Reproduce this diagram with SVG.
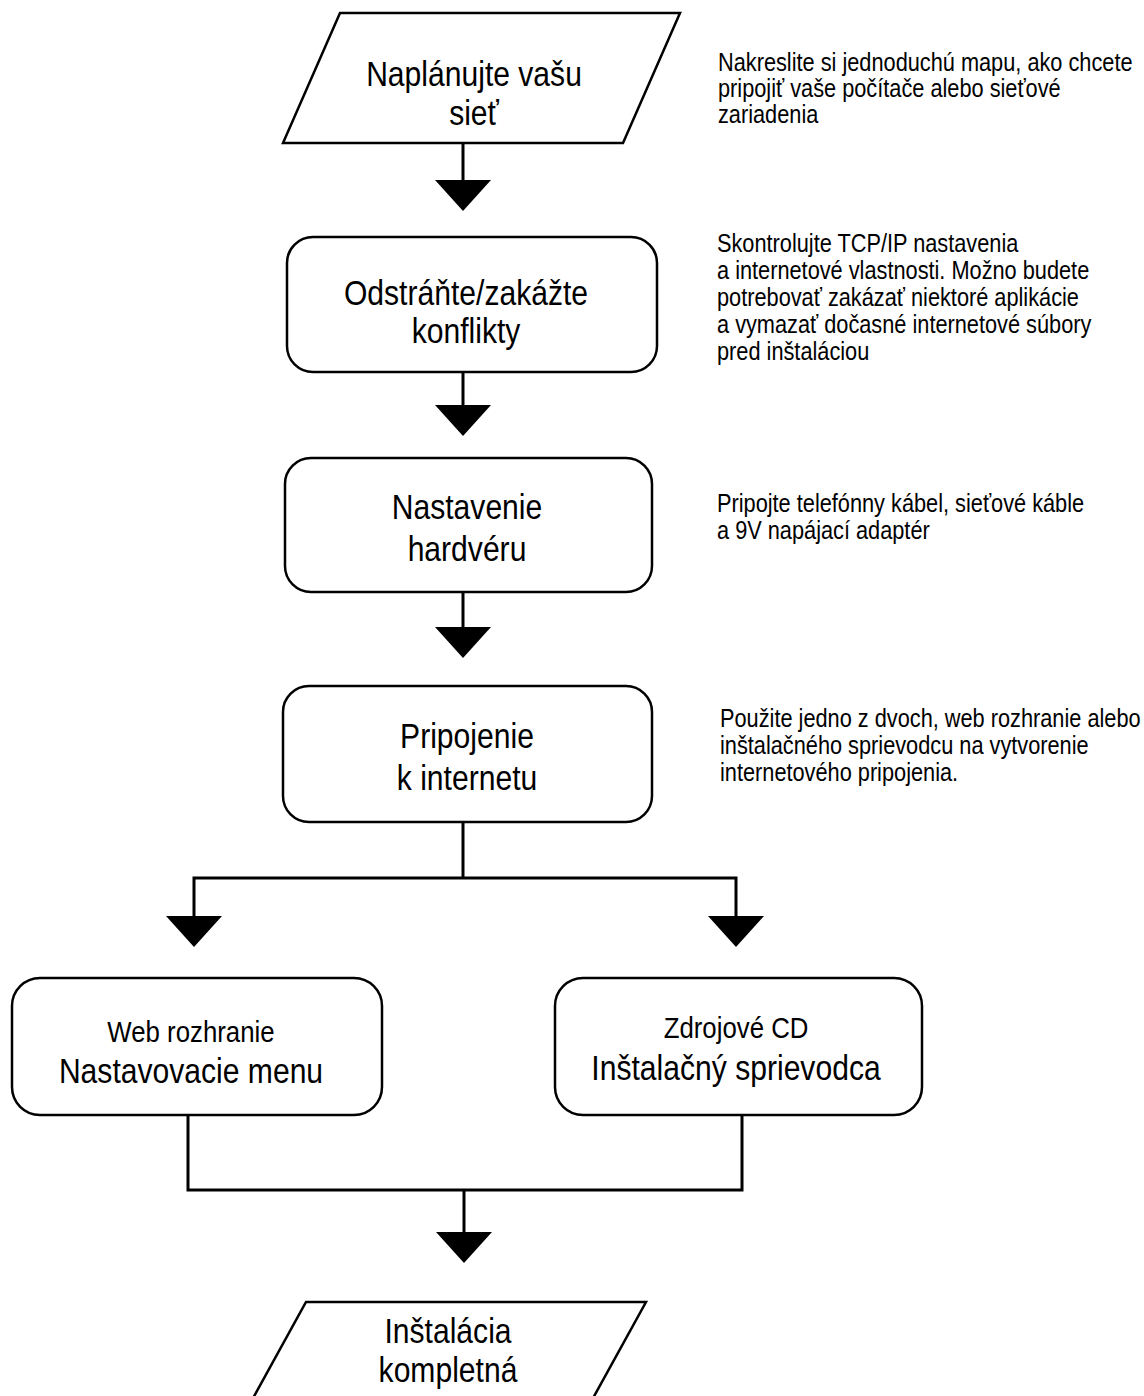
<svg xmlns="http://www.w3.org/2000/svg" xmlns:xlink="http://www.w3.org/1999/xlink" width="1144" height="1396" viewBox="0 0 1144 1396">
<style>
.shape{fill:#fff;stroke:#000;stroke-width:2.5}
.conn{fill:none;stroke:#000;stroke-width:3}
.ah{fill:#000}
.t{font-family:"Liberation Sans",Arial,sans-serif;fill:#000;text-anchor:middle}
.big{font-size:35px}
.mid{font-size:30px}
.note{font-family:"Liberation Sans",Arial,sans-serif;font-size:25px;fill:#000}
</style>
<defs>
<path id="ah" d="M-28,0 L28,0 L0,31 Z"/>
</defs>
<rect width="1144" height="1396" fill="#fff"/>

<g id="connectors">
<line class="conn" x1="463" y1="143" x2="463" y2="182"/>
<use href="#ah" class="ah" x="463" y="180"/>
<line class="conn" x1="463" y1="372" x2="463" y2="407"/>
<use href="#ah" class="ah" x="463" y="405"/>
<line class="conn" x1="463" y1="592" x2="463" y2="629"/>
<use href="#ah" class="ah" x="463" y="627"/>
<polyline class="conn" points="463,822 463,878"/>
<polyline class="conn" points="194,918 194,878 736,878 736,918"/>
<use href="#ah" class="ah" x="194" y="916"/>
<use href="#ah" class="ah" x="736" y="916"/>
<polyline class="conn" points="188,1115 188,1190 742,1190 742,1115"/>
<line class="conn" x1="464" y1="1190" x2="464" y2="1234"/>
<use href="#ah" class="ah" x="464" y="1232"/>
</g>

<g id="n1">
<polygon class="shape" points="340,13 680,13 623,143 283,143"/>
<g transform="translate(474,0) scale(0.86,1)"><text class="t big" x="0" y="86">Naplánujte vašu</text><text class="t big" x="0" y="125">sieť</text></g>
</g>
<g id="note1" transform="translate(718,0) scale(0.87,1)">
<text class="note" x="0" y="71">Nakreslite si jednoduchú mapu, ako chcete</text>
<text class="note" x="0" y="97">pripojiť vaše počítače alebo sieťové</text>
<text class="note" x="0" y="123">zariadenia</text>
</g>

<g id="n2">
<rect class="shape" x="287" y="237" width="370" height="135" rx="26"/>
<g transform="translate(466,0) scale(0.86,1)"><text class="t big" x="0" y="305">Odstráňte/zakážte</text><text class="t big" x="0" y="343">konflikty</text></g>
</g>
<g id="note2" transform="translate(717,0) scale(0.87,1)">
<text class="note" x="0" y="252">Skontrolujte TCP/IP nastavenia</text>
<text class="note" x="0" y="279">a internetové vlastnosti. Možno budete</text>
<text class="note" x="0" y="306">potrebovať zakázať niektoré aplikácie</text>
<text class="note" x="0" y="333">a vymazať dočasné internetové súbory</text>
<text class="note" x="0" y="360">pred inštaláciou</text>
</g>

<g id="n3">
<rect class="shape" x="285" y="458" width="367" height="134" rx="26"/>
<g transform="translate(467,0) scale(0.86,1)"><text class="t big" x="0" y="519">Nastavenie</text><text class="t big" x="0" y="561">hardvéru</text></g>
</g>
<g id="note3" transform="translate(717,0) scale(0.87,1)">
<text class="note" x="0" y="512">Pripojte telefónny kábel, sieťové káble</text>
<text class="note" x="0" y="539">a 9V napájací adaptér</text>
</g>

<g id="n4">
<rect class="shape" x="283" y="686" width="369" height="136" rx="26"/>
<g transform="translate(467,0) scale(0.86,1)"><text class="t big" x="0" y="748">Pripojenie</text><text class="t big" x="0" y="790">k internetu</text></g>
</g>
<g id="note4" transform="translate(720,0) scale(0.87,1)">
<text class="note" x="0" y="727">Použite jedno z dvoch, web rozhranie alebo</text>
<text class="note" x="0" y="754">inštalačného sprievodcu na vytvorenie</text>
<text class="note" x="0" y="781">internetového pripojenia.</text>
</g>

<g id="n5">
<rect class="shape" x="12" y="978" width="370" height="137" rx="28"/>
<g transform="translate(191,0) scale(0.86,1)"><text class="t mid" x="0" y="1042">Web rozhranie</text><text class="t big" x="0" y="1083">Nastavovacie menu</text></g>
</g>

<g id="n6">
<rect class="shape" x="555" y="978" width="367" height="137" rx="28"/>
<g transform="translate(736,0) scale(0.86,1)"><text class="t mid" x="0" y="1038">Zdrojové CD</text><text class="t big" x="0" y="1080">Inštalačný sprievodca</text></g>
</g>

<g id="n7">
<polygon class="shape" points="306,1302 646,1302 592,1400 252,1400"/>
<g transform="translate(448,0) scale(0.86,1)"><text class="t big" x="0" y="1343">Inštalácia</text><text class="t big" x="0" y="1382">kompletná</text></g>
</g>
</svg>
